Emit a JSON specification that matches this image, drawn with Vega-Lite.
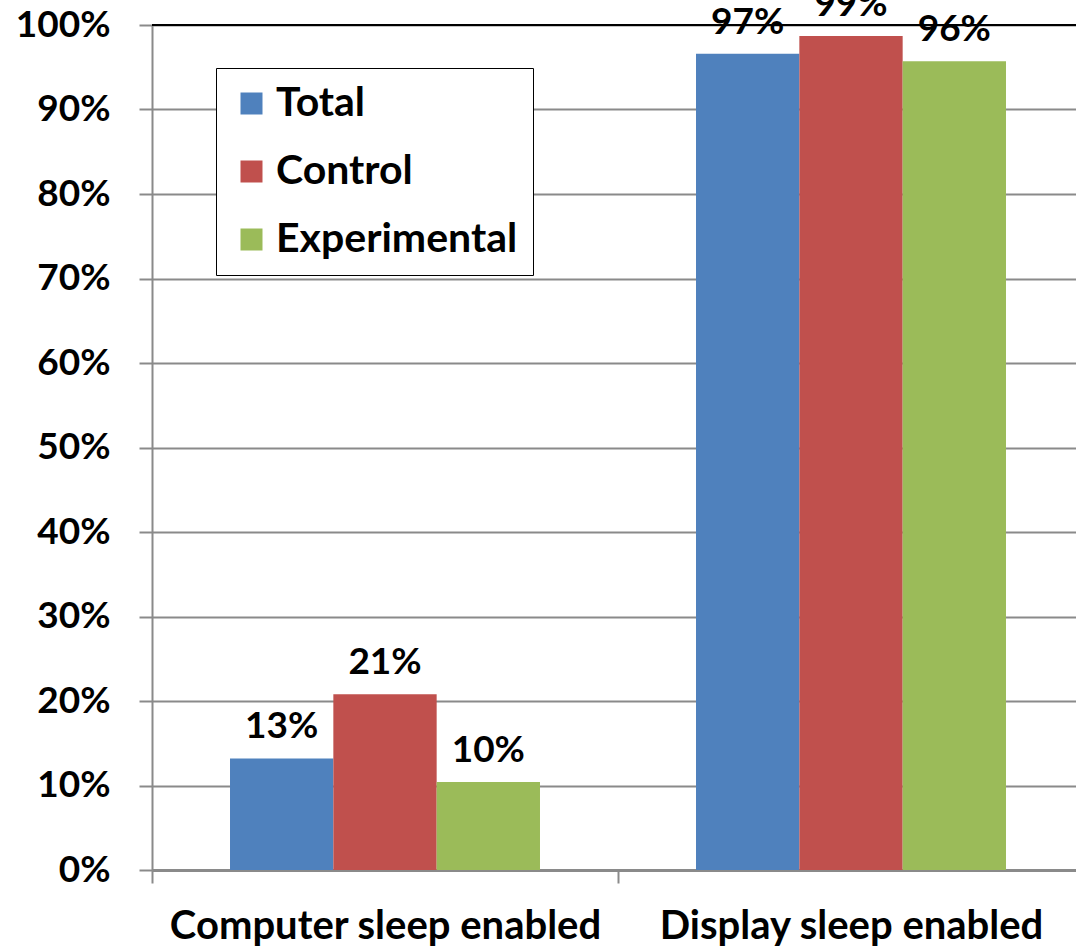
{
  "$schema": "https://vega.github.io/schema/vega-lite/v6.json",
  "autosize": {"type": "none"},
  "padding": {"left": 152, "top": 25, "right": 0, "bottom": 79},
  "width": 932,
  "height": 845,
  "background": "white",
  "config": {
    "view": {"stroke": null},
    "font": "Lato"
  },
  "datasets": {
    "bars": [
      {"category": "Computer sleep enabled", "group": "Total", "value": 13.2, "label": "13%"},
      {"category": "Computer sleep enabled", "group": "Control", "value": 20.8, "label": "21%"},
      {"category": "Computer sleep enabled", "group": "Experimental", "value": 10.4, "label": "10%"},
      {"category": "Display sleep enabled", "group": "Total", "value": 96.6, "label": "97%"},
      {"category": "Display sleep enabled", "group": "Control", "value": 98.7, "label": "99%"},
      {"category": "Display sleep enabled", "group": "Experimental", "value": 95.7, "label": "96%"}
    ],
    "top": [{"level": 100}]
  },
  "layer": [
    {
      "data": {"name": "bars"},
      "mark": {"type": "bar"},
      "encoding": {
        "x": {
          "field": "category", "type": "nominal",
          "scale": {"paddingInner": 0, "paddingOuter": 0},
          "axis": {
            "title": null, "labelAngle": 0, "labelFont": "Lato", "labelFontWeight": "bold",
            "labelFontSize": 40, "labelColor": "black", "labelPadding": 23,
            "domainColor": "#8a8a8a", "domainWidth": 3, "tickColor": "#8a8a8a", "tickWidth": 2,
            "tickSize": 13, "tickBand": "extent", "labelLimit": 600
          }
        },
        "xOffset": {"field": "group", "type": "nominal", "sort": ["Total", "Control", "Experimental"], "scale": {"paddingInner": 0, "paddingOuter": 0.755}},
        "y": {
          "field": "value", "type": "quantitative",
          "scale": {"domain": [0, 100], "nice": false},
          "axis": {
            "title": null, "values": [0, 10, 20, 30, 40, 50, 60, 70, 80, 90, 100],
            "labelExpr": "datum.value + '%'", "labelFont": "Lato", "labelFontWeight": "bold",
            "labelFontSize": 37, "labelColor": "black", "labelPadding": 29,
            "gridColor": "#8a8a8a", "gridWidth": 2, "domainColor": "#8a8a8a", "domainWidth": 2,
            "tickColor": "#8a8a8a", "tickWidth": 2, "tickSize": 13
          }
        },
        "color": {
          "field": "group", "type": "nominal", "sort": ["Total", "Control", "Experimental"],
          "scale": {"domain": ["Total", "Control", "Experimental"], "range": ["#4F81BD", "#C0504D", "#9BBB59"]},
          "legend": {
            "title": null, "orient": "none", "legendX": 64, "legendY": 43,
            "symbolType": "square", "symbolSize": 484, "symbolStrokeWidth": 0, "symbolOffset": 0,
            "labelFont": "Lato", "labelFontWeight": "bold", "labelFontSize": 41, "labelColor": "black",
            "labelOffset": 4, "rowPadding": 26, "padding": 15,
            "strokeColor": "black", "fillColor": "white", "labelLimit": 400
          }
        }
      }
    },
    {
      "data": {"name": "bars"},
      "mark": {"type": "text", "baseline": "bottom", "dy": -12, "font": "Lato", "fontWeight": "bold", "fontSize": 37, "color": "black"},
      "encoding": {
        "x": {"field": "category", "type": "nominal"},
        "xOffset": {"field": "group", "type": "nominal", "sort": ["Total", "Control", "Experimental"]},
        "y": {"field": "value", "type": "quantitative"},
        "text": {"field": "label", "type": "nominal"}
      }
    },
    {
      "data": {"name": "top"},
      "mark": {"type": "rule", "color": "black", "strokeWidth": 2},
      "encoding": {
        "y": {"field": "level", "type": "quantitative"}
      }
    }
  ]
}
